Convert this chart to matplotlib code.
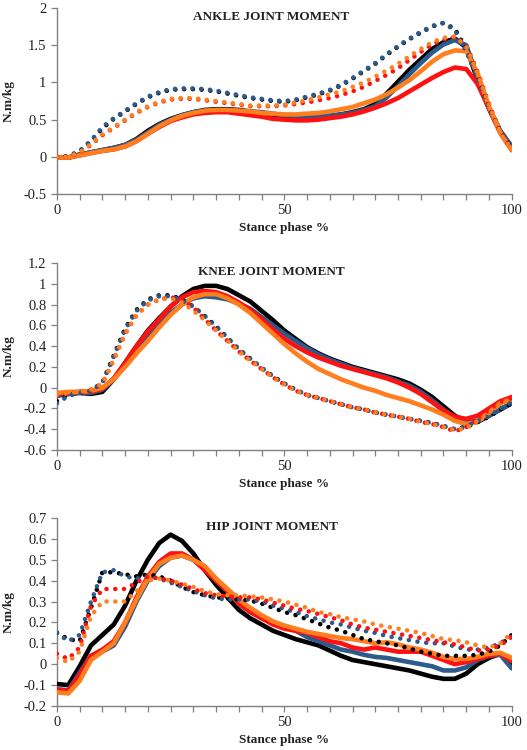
import numpy as np
import matplotlib
matplotlib.use("Agg")
import matplotlib.pyplot as plt
from matplotlib.ticker import MultipleLocator, FuncFormatter

plt.rcParams["font.family"] = ["Liberation Serif", "DejaVu Serif"]
plt.rcParams["axes.unicode_minus"] = False

# stance phase grid (%)
stance = np.arange(0, 100.1, 2.5)

# ---- ankle joint moment (N.m/kg) ----
ankle_black = [-0.01, -0.01, 0.03, 0.06, 0.09, 0.12, 0.16, 0.24, 0.35, 0.44, 0.51, 0.56, 0.60, 0.63, 0.64, 0.64,
               0.63, 0.61, 0.59, 0.56, 0.54, 0.52, 0.52, 0.53, 0.55, 0.57, 0.60, 0.64, 0.71, 0.85, 1.01, 1.17,
               1.31, 1.45, 1.54, 1.59, 1.47, 1.03, 0.65, 0.33, 0.13]
ankle_blue = [-0.01, -0.01, 0.03, 0.06, 0.09, 0.12, 0.16, 0.23, 0.33, 0.43, 0.50, 0.56, 0.60, 0.62, 0.63, 0.63,
              0.62, 0.61, 0.60, 0.58, 0.56, 0.55, 0.54, 0.54, 0.55, 0.57, 0.59, 0.63, 0.68, 0.80, 0.95, 1.11,
              1.26, 1.40, 1.51, 1.57, 1.50, 1.07, 0.66, 0.35, 0.14]
ankle_red = [-0.01, -0.01, 0.02, 0.05, 0.08, 0.10, 0.14, 0.21, 0.31, 0.40, 0.48, 0.53, 0.57, 0.59, 0.60, 0.60,
             0.58, 0.56, 0.54, 0.51, 0.50, 0.49, 0.49, 0.50, 0.52, 0.54, 0.57, 0.61, 0.66, 0.72, 0.79, 0.88,
             0.97, 1.06, 1.14, 1.20, 1.18, 0.98, 0.65, 0.32, 0.09]
ankle_orange = [-0.01, -0.01, 0.02, 0.05, 0.08, 0.10, 0.14, 0.21, 0.31, 0.41, 0.49, 0.55, 0.59, 0.62, 0.63, 0.63,
                0.62, 0.61, 0.59, 0.58, 0.57, 0.57, 0.58, 0.59, 0.61, 0.64, 0.67, 0.72, 0.77, 0.84, 0.93, 1.03,
                1.15, 1.28, 1.38, 1.43, 1.42, 1.12, 0.68, 0.32, 0.09]
ankle_black_dot = [0.0, 0.01, 0.07, 0.21, 0.38, 0.51, 0.61, 0.71, 0.80, 0.86, 0.90, 0.91, 0.91, 0.90, 0.88, 0.85,
                   0.82, 0.79, 0.77, 0.75, 0.74, 0.76, 0.80, 0.84, 0.89, 0.96, 1.05, 1.15, 1.25, 1.37, 1.48, 1.58,
                   1.67, 1.75, 1.80, 1.72, 1.45, 1.07, 0.67, 0.34, 0.12]
ankle_blue_dot = [0.0, 0.01, 0.08, 0.22, 0.40, 0.52, 0.62, 0.72, 0.81, 0.87, 0.91, 0.92, 0.92, 0.91, 0.89, 0.86,
                  0.83, 0.80, 0.78, 0.76, 0.75, 0.77, 0.81, 0.85, 0.90, 0.97, 1.06, 1.16, 1.26, 1.38, 1.49, 1.59,
                  1.68, 1.76, 1.80, 1.70, 1.42, 1.05, 0.66, 0.34, 0.12]
ankle_red_dot = [0.0, 0.0, 0.05, 0.16, 0.29, 0.39, 0.49, 0.59, 0.67, 0.73, 0.77, 0.78, 0.78, 0.76, 0.74, 0.72,
                 0.70, 0.68, 0.68, 0.68, 0.69, 0.71, 0.73, 0.76, 0.79, 0.83, 0.88, 0.94, 1.02, 1.10, 1.19, 1.30,
                 1.41, 1.51, 1.58, 1.61, 1.50, 1.14, 0.71, 0.33, 0.09]
ankle_orange_dot = [0.0, 0.0, 0.06, 0.17, 0.30, 0.40, 0.50, 0.60, 0.68, 0.74, 0.78, 0.79, 0.79, 0.77, 0.75, 0.73,
                    0.71, 0.69, 0.69, 0.69, 0.70, 0.73, 0.76, 0.80, 0.84, 0.88, 0.94, 1.00, 1.08, 1.16, 1.25, 1.35,
                    1.45, 1.54, 1.60, 1.62, 1.48, 1.12, 0.70, 0.32, 0.09]

# ---- knee joint moment ----
knee_black = [-0.07, -0.06, -0.05, -0.06, -0.04, 0.08, 0.24, 0.40, 0.55, 0.67, 0.78, 0.88, 0.95, 0.98, 0.98, 0.95,
              0.89, 0.83, 0.74, 0.65, 0.55, 0.47, 0.39, 0.33, 0.28, 0.24, 0.20, 0.17, 0.14, 0.11, 0.08, 0.04,
              -0.02, -0.09, -0.18, -0.27, -0.33, -0.33, -0.27, -0.21, -0.15]
knee_blue = [-0.08, -0.06, -0.05, -0.05, -0.02, 0.08, 0.22, 0.37, 0.50, 0.62, 0.72, 0.80, 0.86, 0.88, 0.87, 0.85,
             0.81, 0.76, 0.68, 0.60, 0.52, 0.45, 0.38, 0.32, 0.27, 0.23, 0.19, 0.16, 0.13, 0.10, 0.06, 0.02,
             -0.04, -0.12, -0.21, -0.29, -0.33, -0.32, -0.27, -0.21, -0.15]
knee_red = [-0.06, -0.05, -0.04, -0.04, -0.01, 0.09, 0.24, 0.40, 0.54, 0.66, 0.78, 0.87, 0.92, 0.93, 0.92, 0.88,
            0.82, 0.75, 0.66, 0.56, 0.47, 0.40, 0.34, 0.29, 0.25, 0.21, 0.18, 0.15, 0.12, 0.09, 0.05, 0.00,
            -0.06, -0.14, -0.22, -0.28, -0.30, -0.27, -0.20, -0.13, -0.09]
knee_orange = [-0.05, -0.04, -0.04, -0.03, 0.0, 0.08, 0.20, 0.33, 0.45, 0.58, 0.70, 0.80, 0.87, 0.90, 0.90, 0.86,
               0.80, 0.72, 0.62, 0.52, 0.42, 0.33, 0.25, 0.18, 0.13, 0.08, 0.04, 0.00, -0.03, -0.07, -0.10, -0.13,
               -0.17, -0.21, -0.26, -0.32, -0.35, -0.33, -0.24, -0.15, -0.11]
knee_black_dot = [-0.13, -0.07, -0.05, -0.03, 0.05, 0.31, 0.57, 0.75, 0.85, 0.89, 0.89, 0.85, 0.78, 0.69, 0.59, 0.48,
                  0.37, 0.28, 0.19, 0.11, 0.04, -0.02, -0.07, -0.10, -0.13, -0.16, -0.19, -0.21, -0.24, -0.26, -0.28,
                  -0.30, -0.32, -0.34, -0.37, -0.40, -0.38, -0.33, -0.28, -0.21, -0.15]
knee_blue_dot = [-0.15, -0.08, -0.05, -0.03, 0.05, 0.30, 0.56, 0.74, 0.84, 0.88, 0.88, 0.84, 0.78, 0.69, 0.59, 0.48,
                 0.37, 0.28, 0.19, 0.11, 0.04, -0.02, -0.07, -0.10, -0.13, -0.16, -0.19, -0.21, -0.24, -0.26, -0.28,
                 -0.30, -0.32, -0.34, -0.37, -0.40, -0.37, -0.32, -0.27, -0.20, -0.14]
knee_red_dot = [-0.08, -0.05, -0.04, -0.02, 0.04, 0.27, 0.52, 0.70, 0.80, 0.85, 0.87, 0.85, 0.77, 0.66, 0.55, 0.45,
                0.35, 0.26, 0.18, 0.10, 0.03, -0.03, -0.07, -0.10, -0.13, -0.16, -0.19, -0.21, -0.24, -0.26, -0.28,
                -0.30, -0.33, -0.35, -0.38, -0.42, -0.38, -0.30, -0.22, -0.14, -0.10]
knee_orange_dot = [-0.07, -0.05, -0.04, -0.02, 0.04, 0.27, 0.52, 0.70, 0.80, 0.85, 0.86, 0.82, 0.74, 0.65, 0.55, 0.45,
                   0.35, 0.26, 0.18, 0.10, 0.03, -0.03, -0.07, -0.10, -0.13, -0.16, -0.19, -0.21, -0.24, -0.26, -0.28,
                   -0.30, -0.33, -0.35, -0.38, -0.41, -0.39, -0.32, -0.24, -0.16, -0.11]

# ---- hip joint moment ----
hip_black = [-0.095, -0.10, -0.01, 0.09, 0.14, 0.19, 0.28, 0.40, 0.50, 0.58, 0.62, 0.59, 0.53, 0.45, 0.38, 0.32,
             0.26, 0.22, 0.19, 0.16, 0.14, 0.12, 0.105, 0.09, 0.065, 0.04, 0.02, 0.01, 0.0, -0.01, -0.02, -0.03,
             -0.045, -0.06, -0.07, -0.07, -0.045, 0.0, 0.03, 0.05, -0.01]
hip_blue = [-0.12, -0.125, -0.04, 0.04, 0.06, 0.09, 0.18, 0.30, 0.40, 0.47, 0.51, 0.52, 0.50, 0.46, 0.40, 0.35,
            0.29, 0.25, 0.22, 0.20, 0.18, 0.16, 0.13, 0.11, 0.09, 0.07, 0.06, 0.045, 0.035, 0.03, 0.02, 0.01,
            0.0, -0.01, -0.03, -0.03, -0.015, 0.02, 0.04, 0.045, -0.02]
hip_red = [-0.12, -0.13, -0.05, 0.04, 0.07, 0.11, 0.20, 0.32, 0.42, 0.49, 0.53, 0.53, 0.50, 0.45, 0.40, 0.35,
           0.29, 0.25, 0.22, 0.19, 0.17, 0.16, 0.15, 0.13, 0.11, 0.10, 0.08, 0.07, 0.08, 0.07, 0.06, 0.06,
           0.06, 0.04, 0.02, 0.0, 0.01, 0.025, 0.04, 0.05, 0.015]
hip_orange = [-0.135, -0.14, -0.08, 0.02, 0.06, 0.10, 0.20, 0.31, 0.41, 0.48, 0.51, 0.52, 0.50, 0.47, 0.41, 0.36,
              0.31, 0.27, 0.235, 0.205, 0.185, 0.17, 0.155, 0.145, 0.135, 0.125, 0.12, 0.11, 0.10, 0.105, 0.095,
              0.08, 0.07, 0.055, 0.035, 0.025, 0.025, 0.035, 0.05, 0.055, 0.03]
hip_black_dot = [0.15, 0.12, 0.11, 0.27, 0.44, 0.44, 0.43, 0.42, 0.43, 0.42, 0.40, 0.37, 0.345, 0.33, 0.32, 0.315,
                 0.31, 0.305, 0.29, 0.27, 0.25, 0.235, 0.215, 0.195, 0.175, 0.16, 0.14, 0.12, 0.11, 0.10, 0.09,
                 0.075, 0.06, 0.05, 0.04, 0.04, 0.04, 0.045, 0.06, 0.09, 0.14]
hip_blue_dot = [0.15, 0.11, 0.14, 0.30, 0.44, 0.45, 0.42, 0.41, 0.42, 0.41, 0.39, 0.37, 0.35, 0.33, 0.315, 0.31,
                0.31, 0.31, 0.30, 0.28, 0.265, 0.25, 0.23, 0.215, 0.20, 0.19, 0.175, 0.16, 0.15, 0.135, 0.125,
                0.115, 0.105, 0.10, 0.10, 0.085, 0.07, 0.07, 0.08, 0.10, 0.135]
hip_red_dot = [0.05, 0.025, 0.08, 0.28, 0.36, 0.36, 0.36, 0.39, 0.42, 0.41, 0.40, 0.38, 0.36, 0.34, 0.33, 0.325,
               0.32, 0.32, 0.31, 0.295, 0.28, 0.265, 0.255, 0.24, 0.225, 0.21, 0.19, 0.175, 0.165, 0.155, 0.145,
               0.135, 0.125, 0.115, 0.105, 0.095, 0.08, 0.065, 0.07, 0.09, 0.13]
hip_orange_dot = [0.03, 0.01, 0.06, 0.23, 0.30, 0.30, 0.30, 0.35, 0.40, 0.41, 0.40, 0.385, 0.37, 0.35, 0.335, 0.33,
                  0.33, 0.325, 0.32, 0.31, 0.30, 0.285, 0.27, 0.25, 0.24, 0.225, 0.215, 0.205, 0.19, 0.18, 0.17,
                  0.16, 0.15, 0.135, 0.12, 0.115, 0.105, 0.09, 0.08, 0.10, 0.15]

BLACK, BLUE, RED, ORANGE = "#000000", "#2b5a8c", "#ff1111", "#ff7f1f"
AXIS_GREY = "#808080"

panels = [
    ("ANKLE JOINT MOMENT", (-0.5, 2.0), 0.5, [0.108, 0.7413, 0.863, 0.248],
     [ankle_black, ankle_blue, ankle_red, ankle_orange],
     [ankle_black_dot, ankle_blue_dot, ankle_red_dot, ankle_orange_dot]),
    ("KNEE JOINT MOMENT", (-0.6, 1.2), 0.2, [0.108, 0.400, 0.863, 0.2493],
     [knee_black, knee_blue, knee_red, knee_orange],
     [knee_black_dot, knee_blue_dot, knee_red_dot, knee_orange_dot]),
    ("HIP JOINT MOMENT", (-0.2, 0.7), 0.1, [0.108, 0.0587, 0.863, 0.2507],
     [hip_black, hip_blue, hip_red, hip_orange],
     [hip_black_dot, hip_blue_dot, hip_red_dot, hip_orange_dot]),
]

fig = plt.figure(figsize=(5.27, 7.5), dpi=100)

for title, ylim, ystep, rect, solids, dots in panels:
    ax = fig.add_axes(rect)
    colors = [BLACK, BLUE, RED, ORANGE]
    for vals, c in zip(solids, colors):
        ax.plot(stance, vals, color=c, lw=3.3, solid_capstyle="round", solid_joinstyle="round", zorder=2)
    for vals, c in zip(dots, colors):
        ax.plot(stance, vals, color=c, lw=3.3, linestyle=(0, (0.01, 1.9)),
                dash_capstyle="round", zorder=3)

    ax.set_xlim(0, 100)
    ax.set_ylim(*ylim)
    ax.xaxis.set_major_locator(MultipleLocator(50))
    ax.xaxis.set_minor_locator(MultipleLocator(5))
    ax.yaxis.set_major_locator(MultipleLocator(ystep))
    ax.yaxis.set_major_formatter(FuncFormatter(lambda v, p: "%g" % round(v, 2)))

    for side in ("top", "right"):
        ax.spines[side].set_visible(False)
    for side in ("left", "bottom"):
        ax.spines[side].set_color(AXIS_GREY)
        ax.spines[side].set_linewidth(1.0)
        ax.spines[side].set_zorder(1)
    ax.tick_params(which="both", direction="out", length=4, width=0.9, color=AXIS_GREY,
                   labelsize=10.5, labelcolor="#222222")
    ax.tick_params(axis="x", pad=3.5)

    ax.text(0.472, 0.95, title, transform=ax.transAxes, ha="center", va="center",
            fontsize=9.5, fontweight="bold", color="#222222")
    ax.set_xlabel("Stance phase %", fontsize=9.5, fontweight="bold", color="#222222", labelpad=3)
    ax.set_ylabel("N.m/kg", fontsize=9.5, fontweight="bold", color="#222222", labelpad=6)

fig.savefig("out.png", dpi=100, facecolor="white")
